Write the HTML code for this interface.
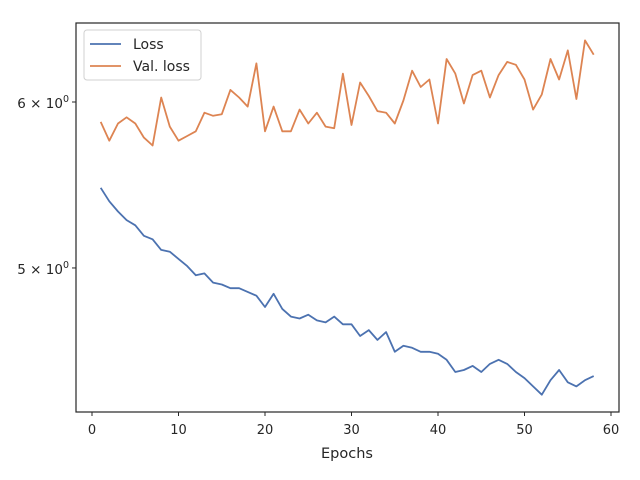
<!DOCTYPE html>
<html><head><meta charset="utf-8"><style>
html,body{margin:0;padding:0;background:#fff;width:640px;height:480px;overflow:hidden}
svg text{font-family:"DejaVu Sans","Liberation Sans",sans-serif;fill:#262626}
</style></head><body>
<svg id="chart" width="640" height="480">
<g id="plot"></g>
</svg>
<script>
const epochs = Array.from({length:58},(_, i)=>i+1);
const lossValues = [5.46,5.38,5.32,5.27,5.24,5.18,5.16,5.10,5.09,5.05,5.01,4.96,4.97,4.92,4.91,4.89,4.89,4.87,4.85,4.79,4.86,4.78,4.74,4.73,4.75,4.72,4.71,4.74,4.70,4.70,4.64,4.67,4.62,4.66,4.56,4.59,4.58,4.56,4.56,4.55,4.52,4.46,4.47,4.49,4.46,4.50,4.52,4.50,4.46,4.43,4.39,4.35,4.42,4.47,4.41,4.39,4.42,4.44];
const valLossValues = [5.87,5.75,5.86,5.90,5.86,5.77,5.72,6.03,5.84,5.75,5.78,5.81,5.93,5.91,5.92,6.08,6.03,5.97,6.26,5.81,5.97,5.81,5.81,5.95,5.86,5.93,5.84,5.83,6.19,5.85,6.13,6.04,5.94,5.93,5.86,6.01,6.21,6.10,6.15,5.86,6.29,6.19,5.99,6.18,6.21,6.03,6.18,6.27,6.25,6.15,5.95,6.05,6.29,6.15,6.35,6.02,6.42,6.32];
const xTicks = [0,10,20,30,40,50,60];
const yTicks = [5,6];
const yTickLabels = ["5","6"];

const NS="http://www.w3.org/2000/svg";
const L=76,R=619,T=23,B=412;
function xs(v){return 92+(v-0)*(611-92)/60;}
function ys(v){return 102-(Math.log10(v)-Math.log10(6))*2096;}
const svg=document.getElementById('chart');
const plot=document.getElementById('plot');
function mk(tag,attrs,parent){const e=document.createElementNS(NS,tag);for(const k in attrs)e.setAttribute(k,attrs[k]);(parent||svg).appendChild(e);return e;}

const defs=mk('defs',{});
const cp=mk('clipPath',{id:'clip'},defs);
mk('rect',{x:L,y:T,width:R-L,height:B-T},cp);

function series(vals,color,name){
  const pts=epochs.map((e,i)=>xs(e).toFixed(1)+','+ys(vals[i]).toFixed(1)).join(' ');
  const p=mk('polyline',{points:pts,fill:'none',stroke:color,'stroke-width':1.8,'stroke-linejoin':'round','clip-path':'url(#clip)'},plot);
  
  
}
series(lossValues,'#4c72b0','loss-line');
series(valLossValues,'#dd8452','val-loss-line');

const fr=mk('rect',{x:L,y:T,width:R-L,height:B-T,fill:'none',stroke:'#262626','stroke-width':1.2});



xTicks.forEach(t=>{
  const x=xs(t);
  const tk=mk('line',{x1:x,x2:x,y1:B,y2:B+4,stroke:'#262626','stroke-width':1});
  
  
  const tx=mk('text',{x:x,y:B+22,'text-anchor':'middle','font-size':13});
  tx.textContent=t;
  
  
});
yTicks.forEach((t,i)=>{
  const y=ys(t);
  const tk=mk('line',{x1:L-4,x2:L,y1:y,y2:y,stroke:'#262626','stroke-width':1});
  
  
  const tx=mk('text',{x:L-7,y:y+6,'text-anchor':'end','font-size':13.5});
  tx.innerHTML=yTickLabels[i]+' \u00d7 10<tspan dy="-6" font-size="9.5">0</tspan>';
  
  
});
const xl=mk('text',{x:347,y:459,'text-anchor':'middle','font-size':14.5});
xl.setAttribute('y','458');
xl.textContent='Epochs';



const lg=mk('g',{});


mk('rect',{x:84,y:30,width:117,height:50,rx:3,fill:'#fff','fill-opacity':0.8,stroke:'#d0d0d0'},lg);
const items=[['Loss','#4c72b0'],['Val. loss','#dd8452']];
items.forEach((it,i)=>{
  const y=44+i*22;
  const ln=mk('line',{x1:90,x2:121,y1:y,y2:y,stroke:it[1],'stroke-width':1.8},lg);
  
  
  const tx=mk('text',{x:133,y:y+5,'font-size':14},lg);
  tx.textContent=it[0];
  
  
});
</script>
</body></html>
